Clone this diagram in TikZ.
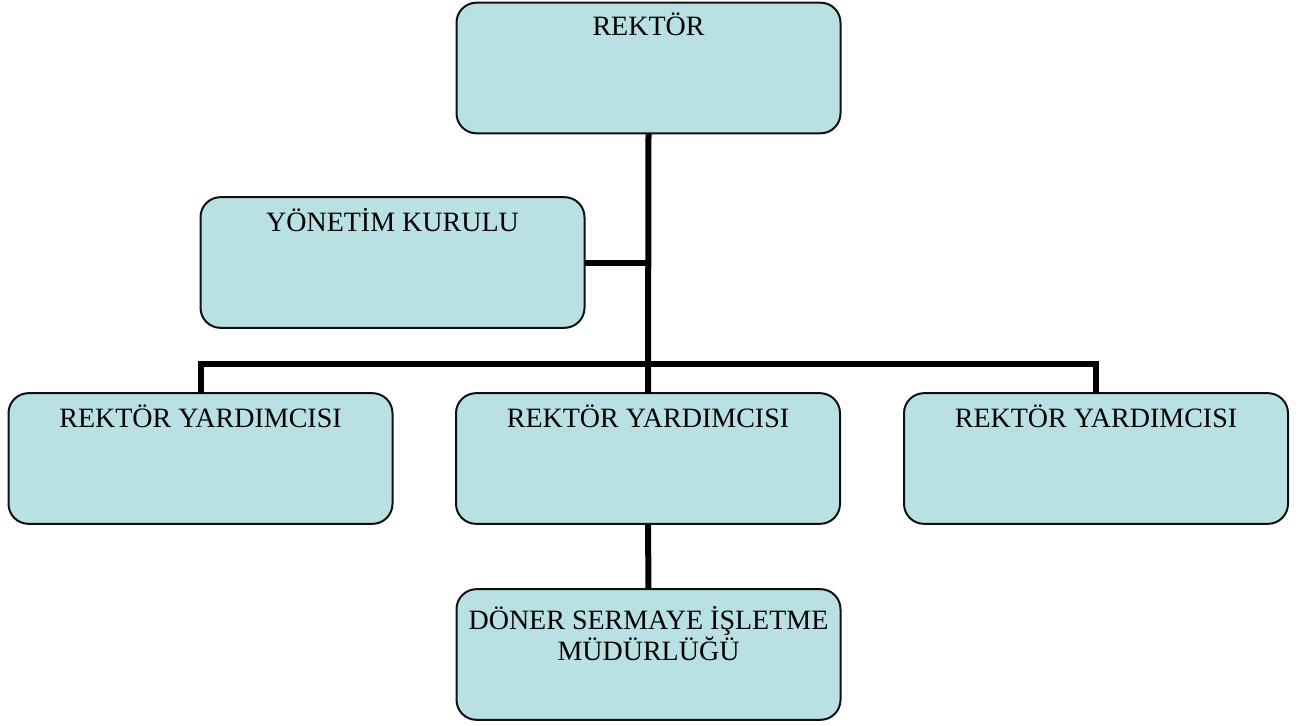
\documentclass[tikz,border=0pt]{standalone}
\usepackage{fontspec}
\setmainfont{Liberation Serif}
\definecolor{boxfill}{HTML}{B9E0E3}
\definecolor{boxline}{HTML}{101010}
\begin{document}
\begin{tikzpicture}[x=0.75pt,y=-0.75pt,
  orgbox/.style={draw=boxline, fill=boxfill, line width=1.5pt, rounded corners=15pt,
    minimum width=288pt, minimum height=98pt, inner sep=0pt, outer sep=0pt},
  boxtext/.style={font=\fontsize{21}{23.3}\selectfont, align=center, anchor=base, inner sep=0pt},
  link/.style={line width=4.5pt, black}]
\useasboundingbox (0,0) rectangle (1299,725);
\node[orgbox] (rektor) at (648.5,68) {};
\node[orgbox] (yk) at (392.5,262.5) {};
\node[orgbox] (ry1) at (200.5,458.5) {};
\node[orgbox] (ry2) at (648,458.5) {};
\node[orgbox] (ry3) at (1096,458.5) {};
\node[orgbox] (doner) at (648.5,654.5) {};
\coordinate (bus) at (648,364);
\draw[link] (rektor.south) -- (ry2.north);
\draw[link] (yk.east) -- (yk.east -| rektor.south);
\draw[link] (ry1.north) |- (bus) -| (ry3.north);
\draw[link] (ry2.south) -- (doner.north);
% texts
\node[boxtext] (t0) at ([yshift=-24.5pt]rektor.north) {REKTÖR};
\node[boxtext] (t1) at ([yshift=-26pt]yk.north) {YÖNETİM KURULU};
\node[boxtext] (t2) at ([yshift=-26pt]ry1.north) {REKTÖR YARDIMCISI};
\node[boxtext] (t3) at ([yshift=-26pt]ry2.north) {REKTÖR YARDIMCISI};
\node[boxtext] (t4) at ([yshift=-26pt]ry3.north) {REKTÖR YARDIMCISI};
\node[boxtext] (t5) at ([yshift=-53.25pt]doner.north) {DÖNER SERMAYE İŞLETME\\MÜDÜRLÜĞÜ};
\end{tikzpicture}
\end{document}
